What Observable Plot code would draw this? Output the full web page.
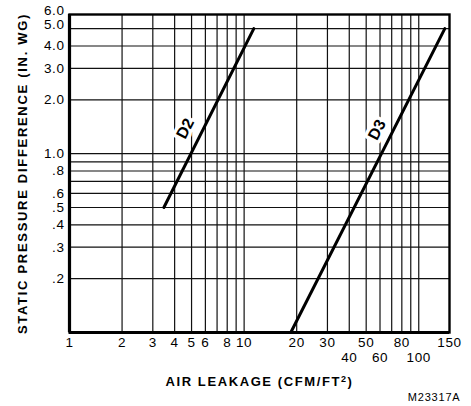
<!DOCTYPE html>
<html>
<head>
<meta charset="utf-8">
<script src="https://cdn.jsdelivr.net/npm/d3@7"></script>
<script src="https://cdn.jsdelivr.net/npm/@observablehq/plot@0.6"></script>
<style>
  html, body { margin: 0; padding: 0; background: #fff; }
</style>
</head>
<body>
<div id="chart"></div>
<script>
// Tick labels and gridlines
const xTicksTop = [1, 2, 3, 4, 5, 6, 8, 10, 20, 30, 50, 80, 150];
const xTicksBottom = [40, 60, 100];
const xGrid = [2, 3, 4, 5, 6, 7, 8, 9, 10, 20, 30, 40, 50, 60, 70, 80, 90, 100];
const yGrid = [5, 4, 3, 2, 1, 0.9, 0.8, 0.7, 0.6, 0.5, 0.4, 0.3, 0.2];
const yTicks = [6, 5, 4, 3, 2, 1, 0.8, 0.6, 0.5, 0.4, 0.3, 0.2];
const yTickLabels = ["6.0", "5.0", "4.0", "3.0", "2.0", "1.0", ".8", ".6", ".5", ".4", ".3", ".2"];

// Series (end points)
const seriesName = ["D2", "D2", "D3", "D3"];
const leakage = [3.47, 11.36, 18.5, 141];
const pressure = [0.5, 5.0, 0.1, 5.0];

// Curve labels
const labelNames = ["D2", "D3"];
const labelLeakage = [4.6, 57.8];
const labelPressure = [1.38, 1.36];

const xTitle = "AIR LEAKAGE (CFM/FT2)";
const yTitle = "STATIC PRESSURE DIFFERENCE (IN. WG)";
const code = "M23317A";

const lineData = seriesName.map((s, i) => ({series: s, x: leakage[i], y: pressure[i]}));
const labelData = labelNames.map((s, i) => ({name: s, x: labelLeakage[i], y: labelPressure[i]}));
const yTickData = yTicks.map((d, i) => ({value: d, label: yTickLabels[i]}));

const font = "'Liberation Sans', Arial, Helvetica, sans-serif";

const chart = Plot.plot({
  width: 471,
  height: 406,
  marginLeft: 69,
  marginRight: 22,
  marginTop: 14,
  marginBottom: 74,
  x: {type: "log", domain: [1, 150], label: null, axis: null},
  y: {type: "log", domain: [0.1, 6], label: null, axis: null},
  style: {fontFamily: font, fontSize: "13px", color: "#000", background: "#fff"},
  marks: [
    Plot.ruleX(xGrid, {stroke: "#111", strokeWidth: 1.2}),
    Plot.ruleY(yGrid, {stroke: "#111", strokeWidth: 1.2}),
    Plot.text(labelData, {x: "x", y: "y", text: "name", rotate: -63, fontWeight: "bold", fontSize: 16,
      fill: "#000", stroke: "#fff", strokeWidth: 7}),
    Plot.line(lineData, {x: "x", y: "y", z: "series", stroke: "#000", strokeWidth: 3}),
    Plot.frame({stroke: "#000", strokeWidth: 2.4}),
    Plot.ruleX([1], {stroke: "#000", strokeWidth: 3.2}),
    Plot.ruleY([0.1], {stroke: "#000", strokeWidth: 3.2}),
    // x tick labels (two rows)
    Plot.text(xTicksTop, {x: d => d, text: d => String(d), frameAnchor: "bottom", lineAnchor: "top", dy: 5, fontSize: 13.5, fill: "#000"}),
    Plot.text(xTicksBottom, {x: d => d, text: d => String(d), frameAnchor: "bottom", lineAnchor: "top", dy: 20, fontSize: 13.5, fill: "#000"}),
    // y tick labels
    Plot.text(yTickData.filter(d => d.value < 5), {y: "value", text: "label", frameAnchor: "left", textAnchor: "end", dx: -5, fontSize: 13.5, fill: "#000"}),
    Plot.text(yTickData.filter(d => d.value >= 5), {y: "value", text: "label", frameAnchor: "left", textAnchor: "end", dx: -5, dy: -3.5, fontSize: 13.5, fill: "#000"}),
    // titles
    Plot.text([yTitle], {frameAnchor: "left", textAnchor: "middle", rotate: -90, dx: -47, fontWeight: "bold", fontSize: 13, fill: "#000"}),
    Plot.text([xTitle], {frameAnchor: "bottom", dy: 49, lineAnchor: "middle", fontWeight: "bold", fontSize: 13, fill: "#000"}),
    Plot.text([code], {frameAnchor: "bottom-right", dx: 11, dy: 65, lineAnchor: "middle", textAnchor: "end", fontSize: 11, fill: "#000"})
  ]
});

document.getElementById("chart").appendChild(chart);

// Typographic touches: letter spacing and the superscript in the x title
d3.select(chart).selectAll("text").each(function() {
  const t = this.textContent;
  if (t === xTitle) {
    this.setAttribute("letter-spacing", "1.6");
    this.textContent = "";
    const a = document.createElementNS("http://www.w3.org/2000/svg", "tspan");
    a.textContent = "AIR LEAKAGE (CFM/FT";
    const b = document.createElementNS("http://www.w3.org/2000/svg", "tspan");
    b.textContent = "2";
    b.setAttribute("font-size", "9");
    b.setAttribute("dy", "-4");
    const c = document.createElementNS("http://www.w3.org/2000/svg", "tspan");
    c.textContent = ")";
    c.setAttribute("dy", "4");
    this.appendChild(a); this.appendChild(b); this.appendChild(c);
  } else if (t === yTitle) {
    this.setAttribute("letter-spacing", "1.7");
  } else if (t === code) {
    this.setAttribute("letter-spacing", "0.8");
  } else if (t === "D2" || t === "D3") {
    // leave
  } else {
    this.setAttribute("letter-spacing", "0.6");
  }
});
</script>
</body>
</html>
